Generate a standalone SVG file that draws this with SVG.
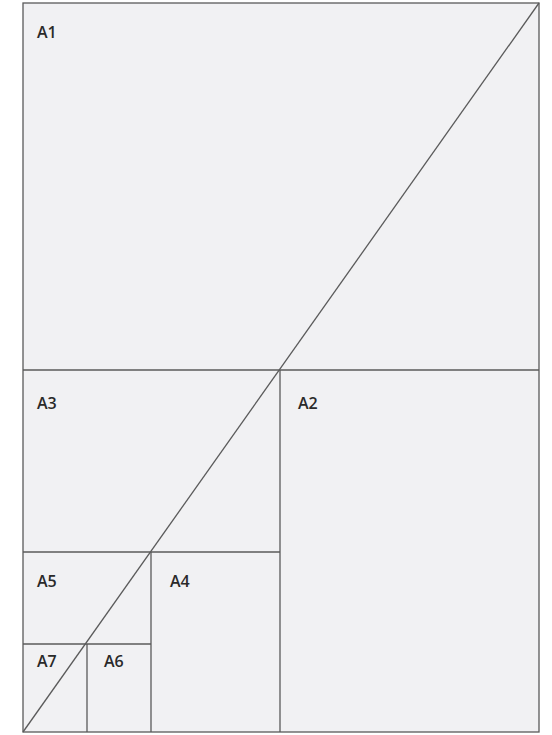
<svg xmlns="http://www.w3.org/2000/svg" width="552" height="735" viewBox="0 0 552 735">
<style>
.ln{stroke:#5a5a5a;stroke-width:1.3;fill:none}
.lb{font-family:"Open Sans","Liberation Sans",Arial,sans-serif;font-size:16px;font-weight:600;fill:#2a2a2a}
</style>
<rect x="0" y="0" width="552" height="735" fill="#ffffff"/>
<g id="A1"><rect x="23" y="3" width="516" height="367" fill="#f1f1f3"/><text class="lb" x="37" y="38">A1</text></g>
<g id="A2"><rect x="280" y="370" width="259" height="362" fill="#f1f1f3"/><text class="lb" x="298" y="409">A2</text></g>
<g id="A3"><rect x="23" y="370" width="257" height="182" fill="#f1f1f3"/><text class="lb" x="37" y="409">A3</text></g>
<g id="A4"><rect x="151" y="552" width="129" height="180" fill="#f1f1f3"/><text class="lb" x="170" y="587">A4</text></g>
<g id="A5"><rect x="23" y="552" width="128" height="92" fill="#f1f1f3"/><text class="lb" x="37" y="587">A5</text></g>
<g id="A6"><rect x="87" y="644" width="64" height="88" fill="#f1f1f3"/><text class="lb" x="104" y="667">A6</text></g>
<g id="A7"><rect x="23" y="644" width="64" height="88" fill="#f1f1f3"/><text class="lb" x="37" y="667">A7</text></g>
<g id="connectors">
<rect class="ln" x="23" y="3" width="516" height="729"/>
<line class="ln" x1="23" y1="370" x2="539" y2="370"/>
<line class="ln" x1="280" y1="370" x2="280" y2="732"/>
<line class="ln" x1="23" y1="552" x2="280" y2="552"/>
<line class="ln" x1="151" y1="552" x2="151" y2="732"/>
<line class="ln" x1="23" y1="644" x2="151" y2="644"/>
<line class="ln" x1="87" y1="644" x2="87" y2="732"/>
<line class="ln" x1="23" y1="732" x2="539" y2="3"/>
</g>
</svg>
